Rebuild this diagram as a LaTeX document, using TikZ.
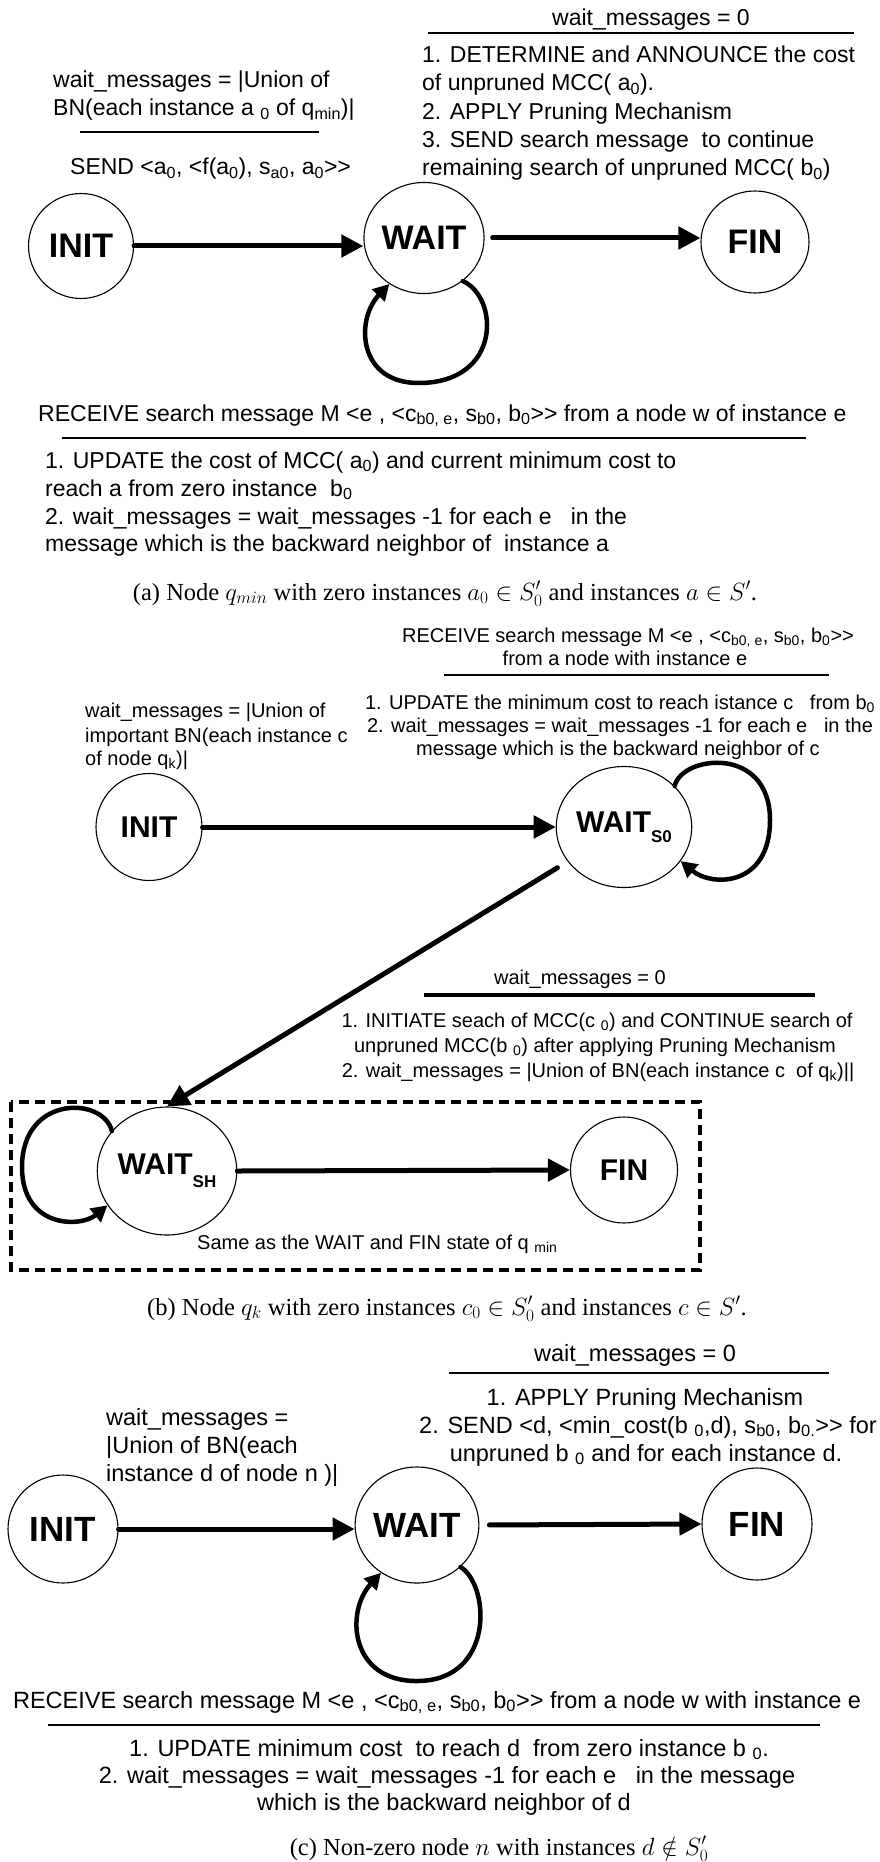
\documentclass[tikz,border=0pt]{standalone}
\usepackage{fontspec}
\setmainfont{Liberation Sans}[Ligatures=TeXOff]
\newfontfamily\capfont{Liberation Serif}
\usetikzlibrary{shapes.geometric,arrows.meta}
\newcommand\lo[1]{\textsubscript{#1}}
\begin{document}
\begin{tikzpicture}[x=1pt,y=-1pt,
  state/.style={draw, ellipse, line width=1.1pt, inner sep=0pt},
  stA/.style={state, font=\bfseries\fontsize{34}{34}\selectfont},
  stB/.style={state, font=\bfseries\fontsize{30}{30}\selectfont},
  stC/.style={state, font=\bfseries\fontsize{35}{35}\selectfont},
  bar/.style={line width=5pt, line cap=round, -{Triangle[length=22pt,width=22pt]}},
  loopline/.style={line width=4.5pt, line cap=round, -{Triangle[length=16pt,width=17pt]}},
  rule/.style={line width=2.5pt},
  ta/.style={inner sep=0pt, font=\fontsize{23}{28}\selectfont},
  tb/.style={inner sep=0pt, font=\fontsize{20}{23}\selectfont},
  tc/.style={inner sep=0pt, font=\fontsize{23.5}{28}\selectfont},
  captext/.style={inner sep=0pt, font=\capfont\fontsize{24.5}{28}\selectfont},
  dashbox/.style={line width=3.2pt, dash pattern=on 10pt off 6pt}
]
\fill[white] (0,0) rectangle (879,1862);
\useasboundingbox (0,0) rectangle (879,1862);

% ---------------- panel (a) ----------------
\node[ta, anchor=base] (aW0) at (651,26) {wait\_messages = 0};
\draw[rule] (428,33) -- (854,33);
\node[ta, anchor=base west] (aR1) at (422,63) {1. DETERMINE and ANNOUNCE the cost};
\node[ta, anchor=base west] (aR2) at (422,91) {of unpruned MCC( a\lo{0}).};
\node[ta, anchor=base west] (aR3) at (422,120) {2. APPLY Pruning Mechanism};
\node[ta, anchor=base west] (aR4) at (422,148) {3. SEND search message\ \ to continue};
\node[ta, anchor=base west] (aR5) at (422,176) {remaining search of unpruned MCC( b\lo{0})};

\node[ta, anchor=base west] (aL1) at (53,88) {wait\_messages = |Union of};
\node[ta, anchor=base west] (aL2) at (53,116) {BN(each instance a \lo{0} of q\lo{min})|};
\draw[rule] (80,132) -- (319,132);
\node[ta, anchor=base west] (aS) at (70,175) {SEND <a\lo{0}, <f(a\lo{0}), s\lo{a0}, a\lo{0}>{}>};

\node[stA, minimum width=105pt, minimum height=105pt] (initA) at (81,246) {INIT};
\node[stA, minimum width=116pt, minimum height=111pt] (waitA) at (424,238) {WAIT};
\node[stA, minimum width=108pt, minimum height=102pt] (finA) at (755,242) {FIN};

\draw[bar] (initA.east) -- (initA.east -| waitA.west);
\draw[bar, shorten <=8pt] (waitA.east) -- (waitA.east -| finA.west);
\coordinate (loopA) at (420,383);
\draw[loopline] (waitA.-48) .. controls (499,297) and (502,382) .. (loopA)
  .. controls (358,384) and (355,320) .. (waitA.-127);

\node[ta, anchor=base west] (aRc) at (38,421) {RECEIVE search message M <e , <c\lo{b0, e}, s\lo{b0}, b\lo{0}>{}> from a node w of instance e};
\draw[rule] (62,438) -- (806,438);
\node[ta, anchor=base west] (aU1) at (45,468) {1. UPDATE the cost of MCC( a\lo{0}) and current minimum cost to};
\node[ta, anchor=base west] (aU2) at (45,496) {reach a from zero instance\ \ b\lo{0}};
\node[ta, anchor=base west] (aU3) at (45,524) {2. wait\_messages = wait\_messages -1 for each e\ \ \ in the};
\node[ta, anchor=base west] (aU4) at (45,551) {message which is the backward neighbor of\ \ instance a};

\node[captext, anchor=base] (capA) at (445,600) {(a) Node $q_{min}$ with zero instances $a_0\in S'_0$ and instances $a\in S'$.};

% ---------------- panel (b) ----------------
\node[tb, anchor=base] (bRc1) at (628,642) {RECEIVE search message M <e , <c\lo{b0, e}, s\lo{b0}, b\lo{0}>{}>};
\node[tb, anchor=base] (bRc2) at (625,665) {from a node with instance e};
\draw[rule] (444,675) -- (829,675);
\node[tb, anchor=base] (bU1) at (620,709) {1. UPDATE the minimum cost to reach istance c\ \ \ from b\lo{0}};
\node[tb, anchor=base] (bU2) at (620,732) {2. wait\_messages = wait\_messages -1 for each e\ \ \ in the};
\node[tb, anchor=base] (bU3) at (618,755) {message which is the backward neighbor of c};

\node[tb, anchor=base west] (bL1) at (85,717) {wait\_messages = |Union of};
\node[tb, anchor=base west] (bL2) at (85,742) {important BN(each instance c};
\node[tb, anchor=base west] (bL3) at (85,765) {of node q\lo{k})|};

\node[stB, minimum width=106pt, minimum height=107pt] (initB) at (149,827) {INIT};
\node[stB, minimum width=123pt, minimum height=121pt] (waitS) at (624,827) {WAIT\raisebox{-10pt}{\fontsize{17}{17}\selectfont S0}};
\draw[bar] (initB.east) -- (waitS.west);
\coordinate (loopB) at (770,820);
\draw[loopline] (waitS.39) .. controls (682,755) and (770,745) .. (loopB)
  .. controls (770,887) and (712,887) .. (waitS.-31);

\node[tb, anchor=base] (bW0) at (580,984) {wait\_messages = 0};
\draw[line width=4pt] (424,995) -- (815,995);
\node[tb, anchor=base] (bI1) at (597,1027) {1. INITIATE seach of MCC(c \lo{0}) and CONTINUE search of};
\node[tb, anchor=base] (bI2) at (595,1052) {unpruned MCC(b \lo{0}) after applying Pruning Mechanism};
\node[tb, anchor=base] (bI3) at (598,1077) {2. wait\_messages = |Union of BN(each instance c\ \ of q\lo{k})||};

\draw[dashbox] (11,1102) rectangle (700,1270);
\node[stB, minimum width=121pt, minimum height=128pt] (waitH) at (167,1171) {WAIT\raisebox{-13pt}{\fontsize{17}{17}\selectfont SH}};
\node[stB, minimum width=107pt, minimum height=106pt] (finB) at (624,1170) {FIN};
\draw[bar] (waitH.east) -- (finB.west);
\draw[bar, shorten <=12pt] (waitS) -- (waitH.north);
\coordinate (loopC) at (22,1167);
\draw[loopline] (waitH.144) .. controls (103,1096) and (22,1095) .. (loopC)
  .. controls (22,1228) and (80,1228) .. (waitH.-150);
\node[tb, anchor=base west] (bSame) at (197,1249) {Same as the WAIT and FIN state of q \lo{min}};

\node[captext, anchor=base] (capB) at (447,1315) {(b) Node $q_k$ with zero instances $c_0\in S'_0$ and instances $c\in S'$.};

% ---------------- panel (c) ----------------
\node[tc, anchor=base] (cW0) at (635,1361) {wait\_messages = 0};
\draw[rule] (449,1373) -- (829,1373);
\node[tc, anchor=base] (cA1) at (645,1405) {1. APPLY Pruning Mechanism};
\node[tc, anchor=base] (cA2) at (648,1433) {2. SEND <d, <min\_cost(b \lo{0},d), s\lo{b0}, b\lo{0.}>{}> for};
\node[tc, anchor=base] (cA3) at (646,1461) {unpruned b \lo{0} and for each instance d.};

\node[tc, anchor=base west] (cL1) at (106,1425) {wait\_messages =};
\node[tc, anchor=base west] (cL2) at (106,1453) {|Union of BN(each};
\node[tc, anchor=base west] (cL3) at (106,1481) {instance d of node n )|};

\node[stC, minimum width=110pt, minimum height=108pt] (initC) at (63,1529) {INIT};
\node[stC, minimum width=118pt, minimum height=116pt] (waitC) at (417,1525) {WAIT};
\node[stC, minimum width=110pt, minimum height=112pt] (finC) at (757,1524) {FIN};
\draw[bar] (initC.east) -- (initC.east -| waitC.west);
\draw[bar, shorten <=10pt] (waitC.east) -- (finC.west);
\coordinate (loopD) at (418,1681);
\draw[loopline] (waitC.-44) .. controls (490,1585) and (495,1680) .. (loopD)
  .. controls (350,1682) and (345,1612) .. (waitC.-127);

\node[tc, anchor=base] (cRc) at (437,1708) {RECEIVE search message M <e , <c\lo{b0, e}, s\lo{b0}, b\lo{0}>{}> from a node w with instance e};
\draw[rule] (48,1725) -- (820,1725);
\node[tc, anchor=base] (cU1) at (449,1756) {1. UPDATE minimum cost\ \ to reach d\ \ from zero instance b \lo{0}.};
\node[tc, anchor=base] (cU2) at (447,1783) {2. wait\_messages = wait\_messages -1 for each e\ \ \ in the message};
\node[tc, anchor=base] (cU3) at (444,1810) {which is the backward neighbor of d};

\node[captext, anchor=base] (capC) at (499,1855) {(c) Non-zero node $n$ with instances $d\notin S'_0$};
\end{tikzpicture}
\end{document}
